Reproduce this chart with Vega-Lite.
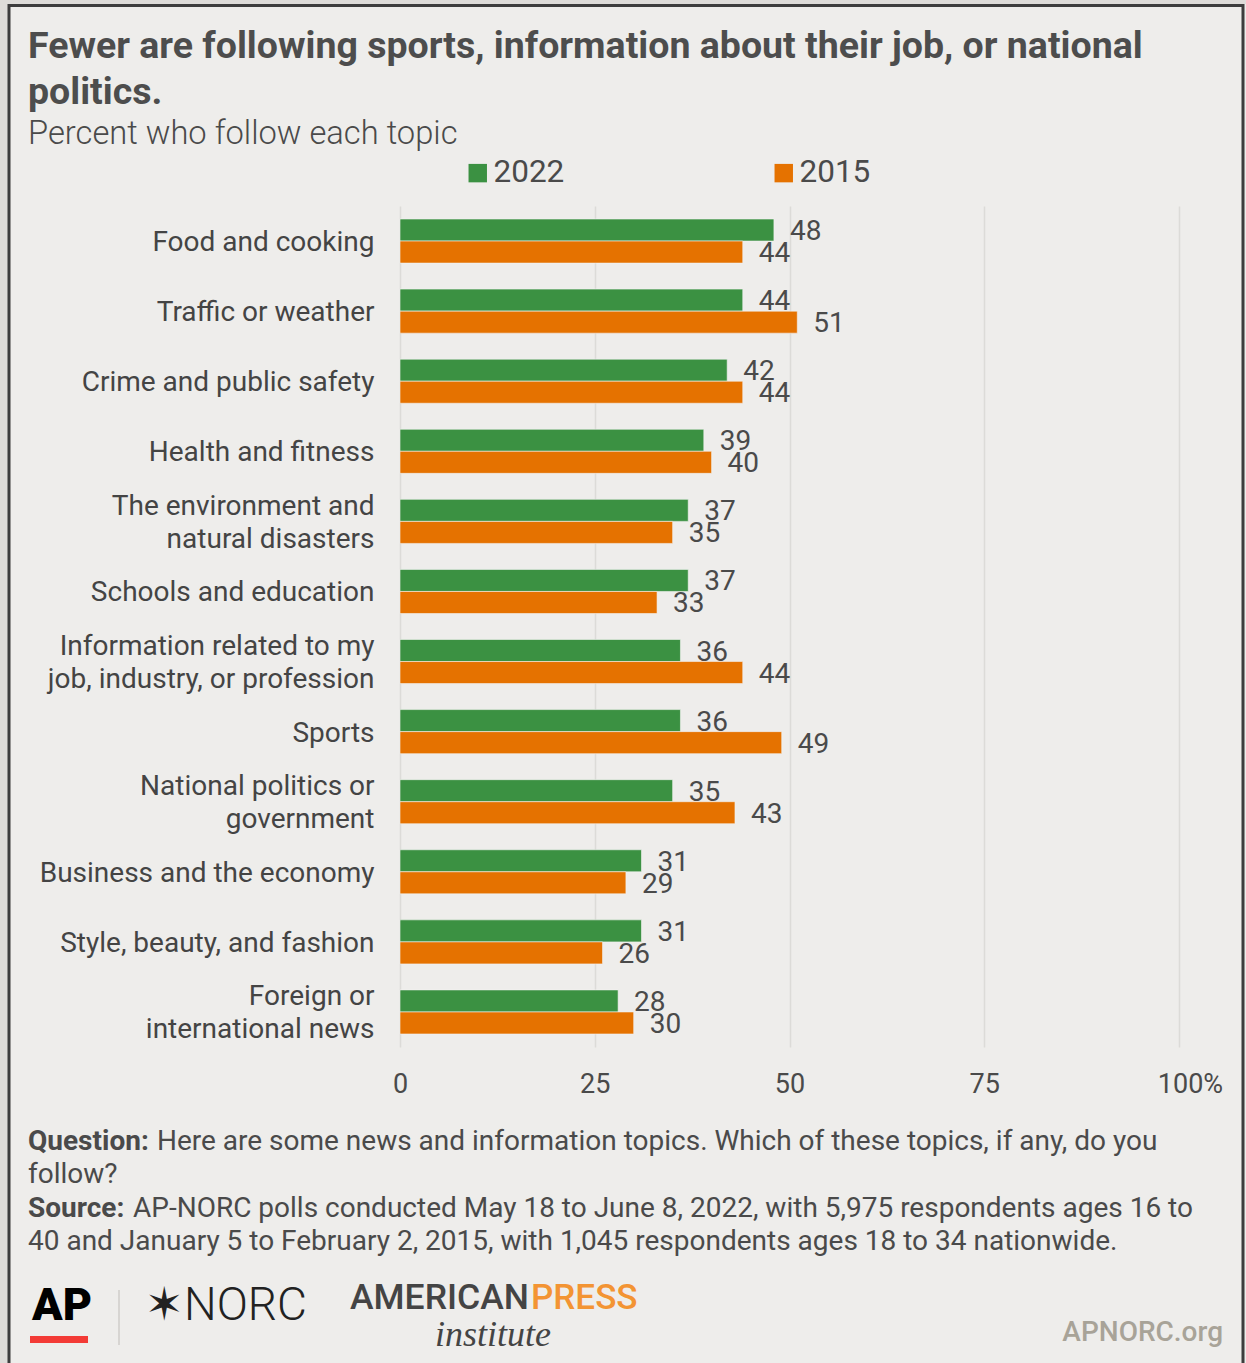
{
  "$schema": "https://vega.github.io/schema/vega-lite/v6.json",
  "width": 779,
  "height": 841,
  "autosize": {"type": "none"},
  "padding": {"left": 400, "top": 206, "right": 67, "bottom": 316},
  "background": "#eeedeb",
  "config": {"view": {"stroke": null}, "font": "Roboto"},
  "title": {
    "text": ["Fewer are following sports, information about their job, or national", "politics."],
    "subtitle": "Percent who follow each topic",
    "anchor": "start",
    "frame": "group",
    "orient": "top",
    "dx": -372,
    "dy": 151,
    "offset": 0,
    "baseline": "top",
    "font": "Roboto",
    "fontSize": 37.5,
    "fontWeight": "bold",
    "color": "#4d4d4d",
    "lineHeight": 46,
    "subtitleFont": "Roboto",
    "subtitleFontSize": 32.7,
    "subtitleFontWeight": 300,
    "subtitleColor": "#4a4a4a",
    "subtitlePadding": 7
  },
  "layer": [
    {
      "data": {"values": [{}]},
      "mark": {"type": "rect", "x": -400, "x2": -392, "y": -206, "y2": 1157, "fill": "#dedcd9"}
    },
    {
      "data": {"values": [{}]},
      "mark": {"type": "rect", "x": -400, "x2": 846, "y": -206, "y2": -202, "fill": "#dedcd9"}
    },
    {
      "data": {"values": [{}]},
      "mark": {"type": "rect", "x": -391, "x2": 843, "y": -200.5, "y2": 1200, "fill": null, "stroke": "#3d3d3d", "strokeWidth": 3}
    },
    {
      "data": {
        "values": [
          {"topic": "Food and cooking", "year": "2022", "pct": 48},
          {"topic": "Food and cooking", "year": "2015", "pct": 44},
          {"topic": "Traffic or weather", "year": "2022", "pct": 44},
          {"topic": "Traffic or weather", "year": "2015", "pct": 51},
          {"topic": "Crime and public safety", "year": "2022", "pct": 42},
          {"topic": "Crime and public safety", "year": "2015", "pct": 44},
          {"topic": "Health and fitness", "year": "2022", "pct": 39},
          {"topic": "Health and fitness", "year": "2015", "pct": 40},
          {"topic": "The environment and natural disasters", "year": "2022", "pct": 37},
          {"topic": "The environment and natural disasters", "year": "2015", "pct": 35},
          {"topic": "Schools and education", "year": "2022", "pct": 37},
          {"topic": "Schools and education", "year": "2015", "pct": 33},
          {"topic": "Information related to my job, industry, or profession", "year": "2022", "pct": 36},
          {"topic": "Information related to my job, industry, or profession", "year": "2015", "pct": 44},
          {"topic": "Sports", "year": "2022", "pct": 36},
          {"topic": "Sports", "year": "2015", "pct": 49},
          {"topic": "National politics or government", "year": "2022", "pct": 35},
          {"topic": "National politics or government", "year": "2015", "pct": 43},
          {"topic": "Business and the economy", "year": "2022", "pct": 31},
          {"topic": "Business and the economy", "year": "2015", "pct": 29},
          {"topic": "Style, beauty, and fashion", "year": "2022", "pct": 31},
          {"topic": "Style, beauty, and fashion", "year": "2015", "pct": 26},
          {"topic": "Foreign or international news", "year": "2022", "pct": 28},
          {"topic": "Foreign or international news", "year": "2015", "pct": 30}
        ]
      },
      "encoding": {
        "y": {
          "field": "topic",
          "type": "nominal",
          "sort": null,
          "title": null,
          "scale": {"paddingInner": 0.371, "paddingOuter": 0.1855},
          "axis": {
            "domain": false,
            "ticks": false,
            "grid": false,
            "labelPadding": 26,
            "labelFont": "Roboto",
            "labelFontSize": 28,
            "labelColor": "#444444",
            "labelLimit": 0,
            "labelLineHeight": 33,
            "labelOffset": {"condition": {"test": "datum.value == 'The environment and natural disasters' || datum.value == 'Information related to my job, industry, or profession' || datum.value == 'National politics or government' || datum.value == 'Foreign or international news'", "value": -14.5}, "value": 2},
            "labelExpr": "datum.value == 'The environment and natural disasters' ? ['The environment and', 'natural disasters'] : datum.value == 'Information related to my job, industry, or profession' ? ['Information related to my', 'job, industry, or profession'] : datum.value == 'National politics or government' ? ['National politics or', 'government'] : datum.value == 'Foreign or international news' ? ['Foreign or', 'international news'] : datum.label"
          }
        },
        "yOffset": {
          "field": "year",
          "type": "nominal",
          "sort": ["2022", "2015"],
          "scale": {"paddingInner": 0, "paddingOuter": 0}
        },
        "x": {
          "field": "pct",
          "type": "quantitative",
          "title": null,
          "scale": {"domain": [0, 100]},
          "axis": {
            "values": [0, 25, 50, 75, 100],
            "domain": false,
            "ticks": false,
            "grid": true,
            "gridColor": "#dcdbd8",
            "gridWidth": 1.5,
            "labelPadding": 24,
            "labelFont": "Roboto",
            "labelFontSize": 27,
            "labelColor": "#4a4a4a",
            "labelBound": false,
            "labelFlush": false,
            "labelExpr": "datum.value == 100 ? '100%' : datum.label",
            "labelOffset": {"condition": {"test": "datum.value == 100", "value": 11}, "value": 0}
          }
        }
      },
      "layer": [
        {
          "mark": {"type": "bar", "stroke": "#f4f4f2", "strokeWidth": 0.6},
          "encoding": {
            "color": {
              "field": "year",
              "type": "nominal",
              "sort": ["2022", "2015"],
              "scale": {"domain": ["2022", "2015"], "range": ["#3b9142", "#e57200"]},
              "legend": {
                "title": null,
                "orient": "none",
                "legendX": 62,
                "legendY": -49,
                "direction": "horizontal",
                "symbolType": "square",
                "symbolSize": 340,
                "symbolStrokeWidth": 0,
                "labelFont": "Roboto",
                "labelFontSize": 31.5,
                "labelColor": "#4a4a4a",
                "labelOffset": 0,
                "columnPadding": 203,
                "padding": 0
              }
            }
          }
        },
        {
          "mark": {"type": "text", "align": "left", "baseline": "middle", "dx": 16, "dy": 2, "font": "Roboto", "fontSize": 28, "color": "#4a4a4a"},
          "encoding": {"text": {"field": "pct", "type": "quantitative"}}
        }
      ]
    },
    {"data": {"values": [{}]}, "mark": {"type": "text", "text": "Question:", "x": -372, "y": 936, "align": "left", "baseline": "middle", "font": "Roboto", "fontSize": 28, "fontWeight": "bold", "color": "#4a4a4a"}},
    {"data": {"values": [{}]}, "mark": {"type": "text", "text": "Here are some news and information topics. Which of these topics, if any, do you", "x": -243, "y": 936, "align": "left", "baseline": "middle", "font": "Roboto", "fontSize": 28, "color": "#4a4a4a"}},
    {"data": {"values": [{}]}, "mark": {"type": "text", "text": "follow?", "x": -372, "y": 969, "align": "left", "baseline": "middle", "font": "Roboto", "fontSize": 28, "color": "#4a4a4a"}},
    {"data": {"values": [{}]}, "mark": {"type": "text", "text": "Source:", "x": -372, "y": 1003, "align": "left", "baseline": "middle", "font": "Roboto", "fontSize": 28, "fontWeight": "bold", "color": "#4a4a4a"}},
    {"data": {"values": [{}]}, "mark": {"type": "text", "text": "AP-NORC polls conducted May 18 to June 8, 2022, with 5,975 respondents ages 16 to", "x": -267, "y": 1003, "align": "left", "baseline": "middle", "font": "Roboto", "fontSize": 28, "color": "#4a4a4a"}},
    {"data": {"values": [{}]}, "mark": {"type": "text", "text": "40 and January 5 to February 2, 2015, with 1,045 respondents ages 18 to 34 nationwide.", "x": -372, "y": 1036, "align": "left", "baseline": "middle", "font": "Roboto", "fontSize": 28, "color": "#4a4a4a"}},
    {"data": {"values": [{}]}, "mark": {"type": "text", "text": "AP", "x": -368, "y": 1100, "align": "left", "baseline": "middle", "font": "Roboto", "fontSize": 45, "fontWeight": 900, "color": "#000000"}},
    {"data": {"values": [{}]}, "mark": {"type": "rect", "x": -370, "x2": -312, "y": 1130, "y2": 1137, "fill": "#f33b36"}},
    {"data": {"values": [{}]}, "mark": {"type": "rule", "stroke": "#cfcdca", "strokeWidth": 1.5}, "encoding": {"x": {"value": -281}, "y": {"value": 1084}, "y2": {"value": 1139}}},
    {"data": {"values": [{}]}, "mark": {"type": "text", "text": "✶NORC", "x": -255, "y": 1100, "align": "left", "baseline": "middle", "font": "Roboto, DejaVu Sans", "fontSize": 46, "fontWeight": 300, "color": "#222222"}},
    {"data": {"values": [{}]}, "mark": {"type": "text", "text": "AMERICAN", "x": -50, "y": 1092, "align": "left", "baseline": "middle", "font": "Roboto", "fontSize": 35.5, "fontWeight": 500, "color": "#444444"}},
    {"data": {"values": [{}]}, "mark": {"type": "text", "text": "PRESS", "x": 131, "y": 1092, "align": "left", "baseline": "middle", "font": "Roboto", "fontSize": 35, "fontWeight": 500, "color": "#f39433"}},
    {"data": {"values": [{}]}, "mark": {"type": "text", "text": "institute", "x": 93, "y": 1129, "align": "center", "baseline": "middle", "font": "Liberation Serif", "fontSize": 36, "fontStyle": "italic", "color": "#444444"}},
    {"data": {"values": [{}]}, "mark": {"type": "text", "text": "APNORC.org", "x": 823, "y": 1127, "align": "right", "baseline": "middle", "font": "Roboto", "fontSize": 28, "fontWeight": 500, "color": "#a8a398"}}
  ]
}
